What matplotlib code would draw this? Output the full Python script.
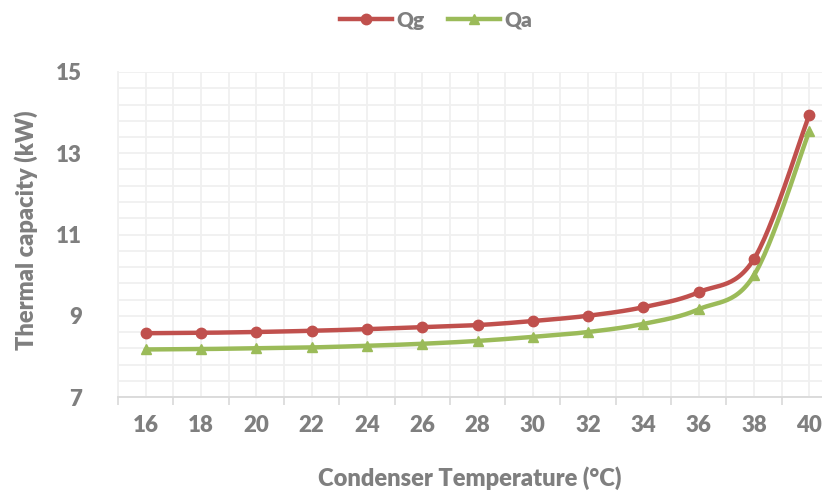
import numpy as np
import matplotlib
matplotlib.use("Agg")
import matplotlib.pyplot as plt
from matplotlib.ticker import FixedLocator

plt.rcParams['font.family'] = ['Lato', 'DejaVu Sans']

temps = [16, 18, 20, 22, 24, 26, 28, 30, 32, 34, 36, 38, 40]
qg = [8.57, 8.58, 8.60, 8.63, 8.67, 8.72, 8.77, 8.87, 9.00, 9.21, 9.58, 10.40, 13.95]
qa = [8.17, 8.18, 8.20, 8.22, 8.26, 8.31, 8.38, 8.48, 8.60, 8.80, 9.16, 10.00, 13.55]
y_ticks = [7, 9, 11, 13, 15]

RED = '#C0504D'
GREEN = '#9BBB59'
TEXT = '#7F7F7F'
WEIGHT = 'heavy'


def smooth(x, y, n=30):
    """Cubic Bezier smoothing through every point (Catmull-Rom style)."""
    x = np.asarray(x, float)
    y = np.asarray(y, float)
    px = np.concatenate([[x[0]], x, [x[-1]]])
    py = np.concatenate([[y[0]], y, [y[-1]]])
    xs, ys = [], []
    t = np.linspace(0, 1, n)
    for i in range(1, len(px) - 2):
        p0 = np.array([px[i], py[i]])
        p3 = np.array([px[i + 1], py[i + 1]])
        c1 = p0 + (np.array([px[i + 1], py[i + 1]]) - np.array([px[i - 1], py[i - 1]])) / 6
        c2 = p3 - (np.array([px[i + 2], py[i + 2]]) - np.array([px[i], py[i]])) / 6
        b = ((1 - t) ** 3)[:, None] * p0 + (3 * (1 - t) ** 2 * t)[:, None] * c1 \
            + (3 * (1 - t) * t ** 2)[:, None] * c2 + (t ** 3)[:, None] * p3
        xs.extend(b[:, 0])
        ys.extend(b[:, 1])
    return np.array(xs), np.array(ys)


fig = plt.figure(figsize=(8.22, 4.91), dpi=100)
ax = fig.add_axes([118 / 822, 1 - 397 / 491, (837 - 118) / 822, (397 - 72) / 491])

idx = np.arange(len(temps))
for vals, color, marker, ms, label in [(qg, RED, 'o', 7.5, 'Qg'), (qa, GREEN, '^', 7.5, 'Qa')]:
    sx, sy = smooth(idx, vals)
    ax.plot(sx, sy, color=color, lw=3.2, solid_capstyle='round', zorder=3)
    ax.plot(idx, vals, linestyle='none', marker=marker, ms=ms, color=color, zorder=4)
    ax.plot([], [], color=color, lw=3.2, marker=marker, ms=ms, label=label)

ax.set_xlim(-0.5, len(temps) - 0.5)
ax.set_ylim(7, 15)

ax.set_xticks(idx)
ax.set_xticklabels([str(t) for t in temps])
ax.xaxis.set_minor_locator(FixedLocator(np.arange(-0.5, len(temps), 1.0)))
ax.yaxis.set_major_locator(FixedLocator(y_ticks))
ax.yaxis.set_minor_locator(FixedLocator(np.linspace(7, 15, 21)))

ax.tick_params(axis='x', which='major', length=0, pad=13, labelsize=16, labelcolor=TEXT)
ax.tick_params(axis='x', which='minor', length=6, width=1.2, color='#D9D9D9')
ax.tick_params(axis='y', which='both', length=0, pad=26, labelsize=16, labelcolor=TEXT)
for lab in ax.get_xticklabels() + ax.get_yticklabels():
    lab.set_fontweight(WEIGHT)

ax.grid(True, which='both', axis='both', color='#F0F0F0', lw=1.3, zorder=0)
ax.set_axisbelow(True)

for s in ['top', 'right']:
    ax.spines[s].set_visible(False)
ax.spines['left'].set_color('#F0F0F0')
ax.spines['left'].set_linewidth(1.3)
ax.spines['bottom'].set_color('#D9D9D9')
ax.spines['bottom'].set_linewidth(1.3)

fig.text(470 / 822, 1 - 478 / 491, 'Condenser Temperature (°C)', ha='center', va='center',
         fontsize=17, fontweight=WEIGHT, color=TEXT)
fig.text(26 / 822, 1 - 230 / 491, 'Thermal capacity (kW)', ha='center', va='center',
         rotation=90, fontsize=17, fontweight=WEIGHT, color=TEXT)

leg = fig.legend(loc='center', bbox_to_anchor=(436 / 822, 1 - 20 / 491), ncol=2, frameon=False,
                 handlelength=2.5, columnspacing=1.1, handletextpad=0.2,
                 prop={'weight': WEIGHT, 'size': 15})
for t in leg.get_texts():
    t.set_color(TEXT)

fig.savefig('out.png', dpi=100)
